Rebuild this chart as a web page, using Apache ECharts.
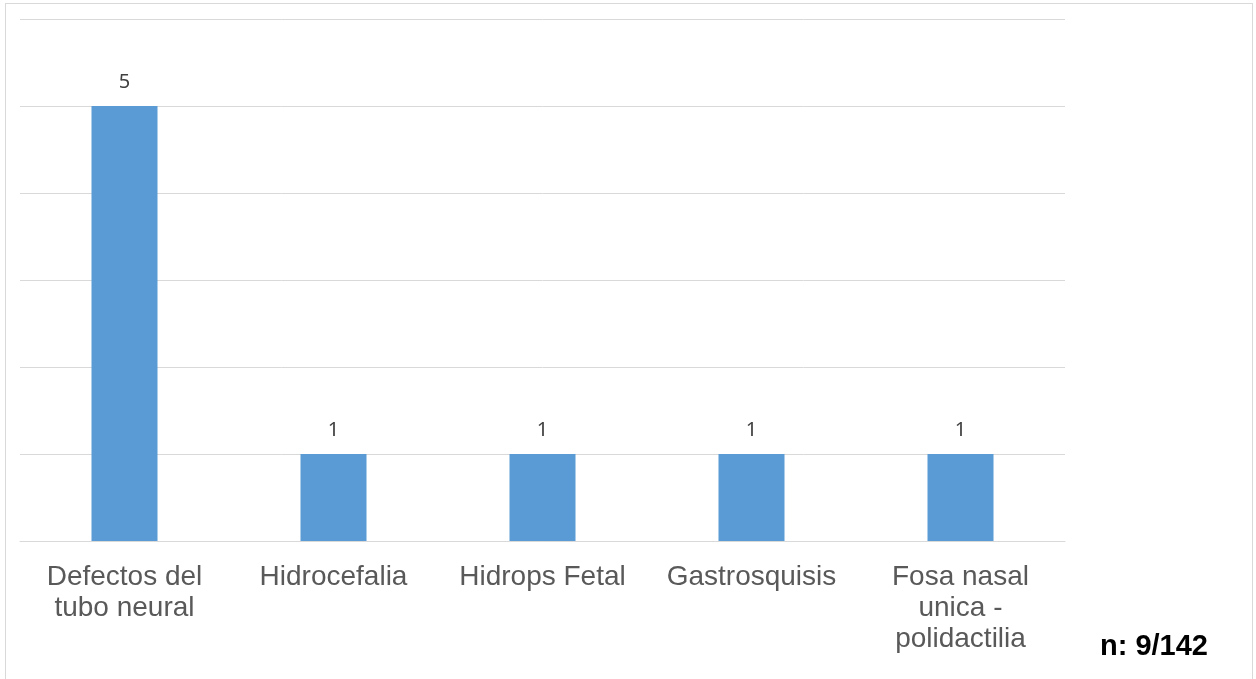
<!DOCTYPE html>
<html>
<head>
<meta charset="utf-8">
<script src="https://cdn.jsdelivr.net/npm/echarts@6/dist/echarts.min.js"></script>
<style>
  html, body { margin: 0; padding: 0; background: #fff; }
  #frame {
    position: absolute; left: 5px; top: 3px;
    width: 1248px; height: 690px;
    border: 1px solid #d9d9d9; box-sizing: border-box;
  }
  #main { position: absolute; left: 0; top: 0; width: 1256px; height: 679px; }
</style>
</head>
<body>
<div id="frame"></div>
<div id="main"></div>
<script>
var categories = ['Defectos del\ntubo neural', 'Hidrocefalia', 'Hidrops Fetal', 'Gastrosquisis', 'Fosa nasal\nunica -\npolidactilia'];
var values = [5, 1, 1, 1, 1];
var note = 'n: 9/142';

var chart = echarts.init(document.getElementById('main'));
chart.setOption({
  animation: false,
  grid: { left: 20, right: 191, top: 19, bottom: 138 },
  xAxis: {
    type: 'category',
    data: categories,
    axisLine: { lineStyle: { color: '#d9d9d9', width: 1 } },
    axisTick: { show: false },
    axisLabel: {
      color: '#595959',
      fontFamily: 'Liberation Sans, Arial, sans-serif',
      fontSize: 28,
      lineHeight: 31,
      margin: 21,
      interval: 0
    }
  },
  yAxis: {
    type: 'value',
    min: 0,
    max: 6,
    interval: 1,
    axisLabel: { show: false },
    axisLine: { show: false },
    axisTick: { show: false },
    splitLine: { lineStyle: { color: '#d9d9d9', width: 1 } }
  },
  series: [{
    type: 'bar',
    data: values,
    barWidth: 66,
    itemStyle: { color: '#5b9bd5' },
    label: {
      show: true,
      position: 'top',
      distance: 14,
      color: '#404040',
      fontFamily: 'Noto Sans, sans-serif',
      fontSize: 20
    }
  }],
  graphic: [{
    type: 'text',
    left: 1100,
    top: 632,
    style: {
      text: note,
      fill: '#000',
      font: 'bold 29px "Liberation Sans", Arial, sans-serif'
    }
  }]
});
</script>
</body>
</html>
